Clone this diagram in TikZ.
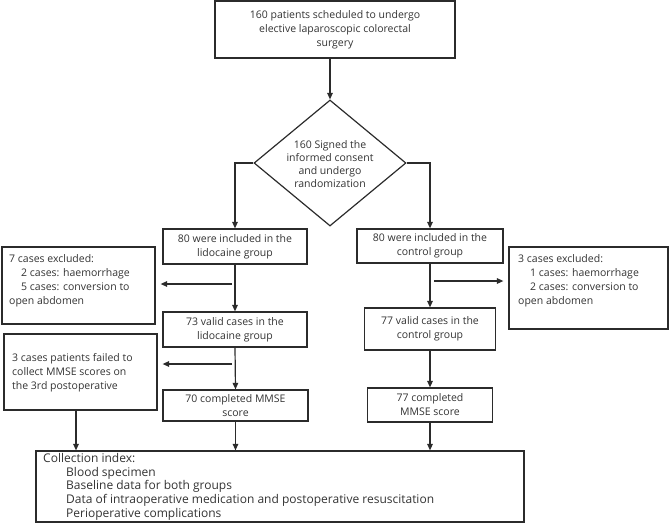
\documentclass[tikz,border=0pt]{standalone}
\usepackage{fontspec}
\setmainfont{Open Sans}
\usetikzlibrary{shapes.geometric,arrows.meta,calc}
\definecolor{ln}{HTML}{2B2B2B}
\definecolor{txt}{HTML}{333333}
\begin{document}
\begin{tikzpicture}[x=1pt,y=-1pt,
  font=\fontsize{10.5}{14}\selectfont, text=txt,
  box/.style={draw=ln, line width=1.2pt, inner sep=0pt, align=center},
  arr/.style={draw=ln, line width=1.2pt, -{Triangle[length=6.5pt,width=5.5pt]}},
  lefttext/.style={align=left, inner sep=0pt, anchor=west}]
\useasboundingbox (0,0) rectangle (669,523);

% top
\node[box, minimum width=240pt, minimum height=57pt] (top) at (335,29.5)
  {160 patients scheduled to undergo\\elective laparoscopic colorectal\\surgery};

% diamond
\node[diamond, draw=ln, line width=1.2pt, minimum width=152pt, minimum height=126pt, inner sep=0pt] (dia) at (330,163) {};
\node[align=center, inner sep=0pt, font=\fontsize{10.5}{13}\selectfont] (diatext) at (330,164)
  {160 Signed the\\informed consent\\and undergo\\randomization};

% lidocaine branch
\node[box, minimum width=144pt, minimum height=35pt] (lido1) at (235,246.5)
  {80 were included in the\\lidocaine group};
\node[box, minimum width=144pt, minimum height=35pt] (lido2) at (235,329.5)
  {73 valid cases in the\\lidocaine group};
\node[box, minimum width=145pt, minimum height=31pt] (lido3) at (235.5,405.5)
  {70 completed MMSE\\score};

% control branch
\node[box, minimum width=146pt, minimum height=34pt] (ctrl1) at (430,246)
  {80 were included in the\\control group};
\node[box, minimum width=131pt, minimum height=42pt] (ctrl2) at (430,329)
  {77 valid cases in the\\control group};
\node[box, minimum width=125pt, minimum height=34pt] (ctrl3) at (430,405)
  {77 completed\\MMSE score};

% exclusion boxes
\node[box, minimum width=153pt, minimum height=77pt] (exL) at (78.5,285.5) {};
\node[lefttext] (exLt) at (9,281)
  {7 cases excluded:\\\hspace*{12pt}2 cases: haemorrhage\\\hspace*{12pt}5 cases: conversion to\\open abdomen};

\node[box, minimum width=159pt, minimum height=82pt] (exR) at (588.5,288) {};
\node[lefttext] (exRt) at (518,281)
  {3 cases excluded:\\\hspace*{12pt}1 cases: haemorrhage\\\hspace*{12pt}2 cases: conversion to\\open abdomen};

\node[box, minimum width=153pt, minimum height=76pt] (ex3) at (80.5,372) {};
\node[lefttext] (ex3t) at (12,373)
  {3 cases patients failed to\\collect MMSE scores on\\the 3rd postoperative};

% collection
\node[box, minimum width=488pt, minimum height=71pt] (coll) at (280,486.5) {};
\node[align=left, inner sep=0pt, anchor=north west, font=\fontsize{12}{13.7}\selectfont] (collt) at (43,453)
  {Collection index:\\
   \hspace*{23pt}Blood specimen\\
   \hspace*{23pt}Baseline data for both groups\\
   \hspace*{23pt}Data of intraoperative medication and postoperative resuscitation\\
   \hspace*{23pt}Perioperative complications};

% connectors
\draw[arr] (top.south -| dia.north) -- (dia.north);
\draw[arr] (dia.west) -| (lido1.north);
\draw[arr] (dia.east) -| (ctrl1.north);
\draw[arr] (lido1.south) -- (lido2.north);
\draw[arr] (lido2.south) -- (lido3.north);
\draw[arr] (ctrl1.south) -- (ctrl2.north);
\draw[arr] (ctrl2.south) -- (ctrl3.north);

\coordinate (aL1) at (232,284);
\draw[arr, shorten >=5pt] (aL1) -- (aL1 -| exL.east);
\coordinate (aR1) at (434,281);
\draw[arr, shorten >=5pt] (aR1) -- (aR1 -| exR.west);
\coordinate (aL2) at (232,364);
\draw[arr, shorten >=5pt] (aL2) -- (aL2 -| ex3.east);

\draw[arr] ([xshift=-4.5pt]ex3.south) -- ([xshift=-4.5pt]ex3.south |- coll.north);
\draw[arr] (lido3.south) -- (lido3.south |- coll.north);
\draw[arr] (ctrl3.south) -- (ctrl3.south |- coll.north);
\end{tikzpicture}
\end{document}
